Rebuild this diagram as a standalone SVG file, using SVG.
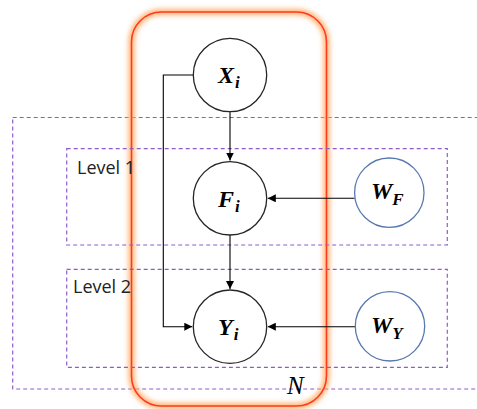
<svg xmlns="http://www.w3.org/2000/svg" width="477" height="409" viewBox="0 0 477 409">
<style>
.dash{fill:none;stroke:#8e5cc8;stroke-width:1.2;stroke-dasharray:4 3}
.node{fill:#fff;stroke:#262626;stroke-width:1.3}
.wnode{fill:#fff;stroke:#5878b0;stroke-width:1.3}
.lbl{font-family:"Liberation Serif",serif;font-weight:bold;font-style:italic;font-size:24px;fill:#000}
.sub{font-size:17px}
.lvl{font-family:"Open Sans","Liberation Sans",sans-serif;font-size:18px;fill:#222}
.edge{fill:none;stroke:#000;stroke-width:1.1}
</style>
<defs>
<marker id="arr" viewBox="0 0 10 10" refX="10" refY="5" markerWidth="8" markerHeight="8" markerUnits="userSpaceOnUse" orient="auto">
<path d="M0,0 L10,5 L0,10 z" fill="#000"/>
</marker>
<filter id="glow" x="-20%" y="-20%" width="140%" height="140%">
<feGaussianBlur stdDeviation="2.5"/>
</filter>
</defs>
<rect width="477" height="409" fill="#fff"/>
<g id="plate-outer"><rect class="dash" x="12.7" y="117.5" width="470" height="271.5"/></g>
<g id="plate-N">
<rect x="131.5" y="12" width="195" height="394" rx="30" ry="30" fill="none" stroke="#ffb070" stroke-width="6" filter="url(#glow)"/>
<rect x="131.5" y="12" width="195" height="394" rx="30" ry="30" fill="none" stroke="#ff3a1e" stroke-width="1.6"/>
<text x="287" y="394" style="font-family:'Liberation Serif',serif;font-style:italic;font-size:25px;fill:#000">N</text>
</g>
<g id="level1"><rect class="dash" x="66.7" y="148.7" width="380.6" height="96.3"/><text class="lvl" x="77" y="174">Level 1</text></g>
<g id="level2"><rect class="dash" x="66.7" y="269.3" width="380.6" height="98"/><text class="lvl" x="73" y="293">Level 2</text></g>
<g id="connectors">
<path class="edge" d="M230,111.7 V160.5" marker-end="url(#arr)"/>
<path class="edge" d="M230,235 V289" marker-end="url(#arr)"/>
<path class="edge" d="M193.3,75 H163.3 V326.7 H192.3" marker-end="url(#arr)"/>
<path class="edge" stroke="#333" d="M354.6,198.3 H267.8" marker-end="url(#arr)"/>
<path class="edge" d="M355,326.7 H267.8" marker-end="url(#arr)"/>
</g>
<g id="X"><circle class="node" cx="230" cy="75" r="36.7"/><text class="lbl" x="218" y="83">X<tspan class="sub" dx="1" dy="5">i</tspan></text></g>
<g id="F"><circle class="node" cx="230" cy="198.3" r="36.7"/><text class="lbl" x="218" y="207">F<tspan class="sub" dx="1" dy="5">i</tspan></text></g>
<g id="Y"><circle class="node" cx="230" cy="326.7" r="36.7"/><text class="lbl" x="218" y="335">Y<tspan class="sub" dx="1" dy="5">i</tspan></text></g>
<g id="WF"><circle class="wnode" cx="389.3" cy="192.7" r="34.7"/><text class="lbl" x="371" y="199">W<tspan class="sub" dx="0" dy="6">F</tspan></text></g>
<g id="WY"><circle class="wnode" cx="390" cy="326.3" r="34.7"/><text class="lbl" x="371" y="333">W<tspan class="sub" dx="0" dy="6">Y</tspan></text></g>
</svg>
